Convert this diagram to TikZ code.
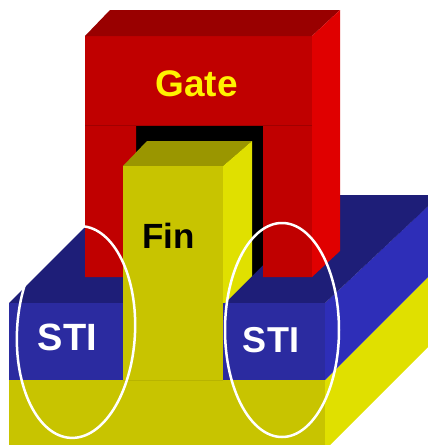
\documentclass[tikz,border=0pt]{standalone}
\usepackage{fontspec}
\setmainfont{Liberation Sans}
\definecolor{gatefront}{HTML}{C00000}
\definecolor{gatetop}{HTML}{990000}
\definecolor{gateside}{HTML}{E00000}
\definecolor{finfront}{HTML}{C8C400}
\definecolor{fintop}{HTML}{9A9600}
\definecolor{finside}{HTML}{E0E000}
\definecolor{stitop}{HTML}{1E1E78}
\definecolor{stifront}{HTML}{2B2BA0}
\definecolor{stiside}{HTML}{2E2EB8}

\begin{document}
\begin{tikzpicture}[x=1pt,y=-1pt]
\tikzstyle{face}=[line join=round]
\tikzstyle{bigtext}=[font=\bfseries, inner sep=0pt, anchor=base]
\tikzstyle{ring}=[draw=white, line width=2.5pt]

\useasboundingbox (0,0) rectangle (428,445);
\clip (0,0) rectangle (428,445);

% substrate and STI, side and top faces
\fill[face, finside] (325,380) -- (428,277) -- (428,347) -- (325,450) -- cycle;
\fill[face, stiside] (325,303) -- (428,206) -- (428,277) -- (325,380) -- cycle;
\fill[face, stitop] (9,303) -- (117,195) -- (440,195) -- (325,303) -- cycle;

% gate
\fill[black] (136,125) -- (263,125) -- (263,265) -- (252,276) -- (136,276) -- cycle;
\fill[face, gatefront] (85,36) -- (312,36) -- (312,277) -- (263,277) -- (263,125)
  -- (136,125) -- (136,277) -- (85,277) -- cycle;
\fill[face, gatetop] (85,36) -- (110,10) -- (340,10) -- (312,36) -- cycle;
\fill[face, gateside] (312,36) -- (340,10) -- (340,251) -- (312,277) -- cycle;
\draw[gatetop!80!gatefront, line width=0.8pt] (85,125) -- (312,125);

% fin
\fill[face, fintop] (123,166) -- (147,141) -- (252,141) -- (223,166) -- cycle;
\fill[face, finside] (223,166) -- (252,141) -- (252,276) -- (223,305) -- cycle;
\fill[finfront] (123,166) rectangle (223,445);

% STI and substrate, front faces
\fill[stifront] (9,303) rectangle (123,380);
\fill[stifront] (223,303) rectangle (325,380);
\fill[finfront] (9,380) rectangle (325,445);
\draw[finfront!92!black, line width=0.6pt] (123,380) -- (223,380);

% labels
\node[bigtext, text=yellow, font=\fontsize{37}{40}\selectfont\bfseries] (gate) at (196.5,96) {Gate};
\node[bigtext, text=black, font=\fontsize{35}{38}\selectfont\bfseries] (fin) at (168.5,248) {Fin};
\node[bigtext, text=white, font=\fontsize{38}{40}\selectfont\bfseries] (stileft) at (67.5,350) {STI};
\node[bigtext, text=white, font=\fontsize{36}{38}\selectfont\bfseries] (stiright) at (271,352) {STI};

% rings
\draw[ring, rotate around={-3:(76,332)}] (76,332) ellipse [x radius=59, y radius=106];
\draw[ring] (282,330) ellipse [x radius=57, y radius=107];
\end{tikzpicture}
\end{document}
